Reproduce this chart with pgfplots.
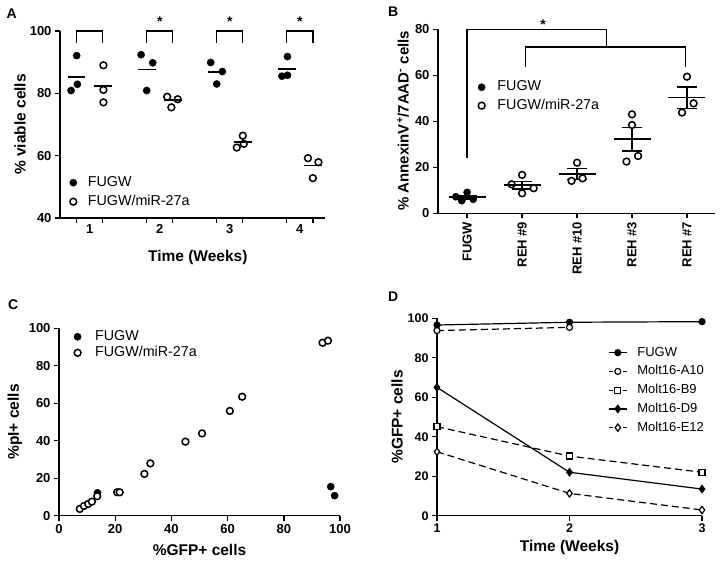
\documentclass[border=0pt]{standalone}
\usepackage{pgfplots}
\pgfplotsset{compat=1.18}
\usepackage{fontspec}
\setmainfont{Liberation Sans}
\pgfplotsset{
  every axis legend/.append style={draw=none, fill=none},
  panel/.style={
    scale only axis, anchor=south west,
    axis lines=left, axis line style={-, line width=1.4pt},
    tick align=outside, major tick length=5pt,
    tick style={line width=1.4pt, black},
    tick label style={font=\bfseries\fontsize{13}{15}\selectfont},
    /pgf/number format/assume math mode=true,
    label style={font=\bfseries\fontsize{15.5}{17}\selectfont},
    clip=false,
    legend cell align=left,
  },
  lgd/.style={legend style={draw=none, fill=none, anchor=west,
    font=\fontsize{14.3}{16}\selectfont,
    nodes={inner sep=0pt, text height=9.5pt, text depth=2.5pt}}},
}
\begin{document}
\begin{tikzpicture}
\path[use as bounding box] (0pt,0pt) rectangle (720pt,560pt);
\node[font=\bfseries\fontsize{14}{16}\selectfont] at (11.7pt,546.7pt) {A};
\node[font=\bfseries\fontsize{14}{16}\selectfont] at (393.3pt,548.3pt) {B};
\node[font=\bfseries\fontsize{14}{16}\selectfont] at (13.3pt,255pt) {C};
\node[font=\bfseries\fontsize{14}{16}\selectfont] at (393.3pt,263.3pt) {D};

% ---------------- Panel A ----------------
\begin{axis}[panel, lgd,
  at={(60pt,342pt)}, width=265pt, height=187pt,
  xmin=0.576, xmax=4.36, ymin=40, ymax=100,
  ytick={40,60,80,100},
  xtick={0.814,1.186,1.814,2.186,2.814,3.186,3.814,4.186},
  xticklabels={},
  extra x ticks={1,2,3,4}, extra x tick labels={1,2,3,4},
  extra x tick style={major tick length=0pt, xticklabel style={yshift=-3pt}},
  xlabel={Time (Weeks)}, ylabel={\% viable cells},
  xlabel style={at={(axis description cs:0.52,-0.209)}, anchor=center},
  ylabel style={at={(axis description cs:-0.151,0.5)}, anchor=center},
  legend style={at={(axis description cs:0.0245,0.138)}, row sep=7pt, column sep=11pt},
]
\addplot[only marks, mark=*, mark size=3.6pt] coordinates {
  (0.814,92.1) (0.734,80.9) (0.824,82.9)
  (1.734,92.4) (1.900,89.8) (1.814,80.9)
  (2.728,89.9) (2.894,87.0) (2.814,83.0)
  (3.824,91.8) (3.744,85.5) (3.824,85.8)
};
\addplot[only marks, mark=*, mark size=3.4pt, mark options={fill=white, draw=black, line width=1.5pt}] coordinates {
  (1.196,89.0) (1.196,81.1) (1.196,77.1)
  (2.106,78.9) (2.256,78.1) (2.166,75.5)
  (3.100,62.6) (3.186,66.4) (3.200,63.8)
  (4.116,59.2) (4.266,57.9) (4.186,52.8)
};
\addplot[only marks, mark=-, mark size=8.8pt, mark options={line width=1.5pt}, forget plot] coordinates {
  (0.814,85.3) (1.186,82.4) (1.814,87.7) (2.186,77.9)
  (2.814,86.8) (3.186,64.4) (3.814,87.8) (4.186,56.8)
};
\legend{FUGW, FUGW/miR-27a}
\foreach \w in {1,2,3,4} {
  \edef\temp{\noexpand\draw[line width=1.4pt] (axis cs:\w-0.186,96.3) |- (axis cs:\w+0.186,100) -- (axis cs:\w+0.186,96.3);}
  \temp
}
\node[anchor=base, font=\bfseries\fontsize{14}{16}\selectfont] at (axis cs:2,101.5) {*};
\node[anchor=base, font=\bfseries\fontsize{14}{16}\selectfont] at (axis cs:3,101.5) {*};
\node[anchor=base, font=\bfseries\fontsize{14}{16}\selectfont] at (axis cs:4,101.5) {*};
\end{axis}

% ---------------- Panel B ----------------
\begin{axis}[panel, lgd,
  at={(438pt,346.7pt)}, width=277pt, height=184pt,
  xmin=-0.53, xmax=4.51, ymin=0, ymax=80,
  ytick={0,20,40,60,80},
  xtick={0,1,2,3,4},
  xticklabels={FUGW, REH \#9, REH \#10, REH \#3, REH \#7},
  xticklabel style={rotate=90, anchor=east},
  ylabel={\% AnnexinV\textsuperscript{+}/7AAD\textsuperscript{-} cells},
  ylabel style={at={(axis description cs:-0.126,0.503)}, anchor=center, font=\bfseries\fontsize{15}{16}\selectfont},
  legend style={at={(axis description cs:0.133,0.635)}, row sep=6.4pt, column sep=12.2pt},
]
\addplot[only marks, mark=*, mark size=3.6pt] coordinates {
  (-0.206,7.2) (-0.097,5.5) (0,9.1) (0.11,6.1)
};
\addplot[only marks, mark=*, mark size=3.4pt, mark options={fill=white, draw=black, line width=1.5pt}] coordinates {
  (1.0,16.7) (0.81,12.6) (1.21,10.9) (1.0,8.7)
  (2.0,22.0) (1.9,14.1) (2.1,15.2)
  (3.0,43.0) (3.0,38.4) (2.9,22.5) (3.11,24.9)
  (4.0,59.4) (4.12,47.8) (3.91,43.8)
};
\addplot[only marks, mark=-, mark size=18.5pt, mark options={line width=1.5pt}, forget plot,
  error bars/.cd, y dir=both, y explicit,
  error bar style={line width=1.5pt},
  error mark options={line width=1.5pt, mark size=10pt, rotate=90}] coordinates {
  (0,7.0) +- (0,0.79)
  (1,12.2) +- (0,1.69)
  (2,17.1) +- (0,2.47)
  (3,32.2) +- (0,5.02)
  (4,50.3) +- (0,4.68)
};
\legend{FUGW, FUGW/miR-27a}
\draw[line width=1.4pt] (axis cs:0,23.9) |- (axis cs:2.54,80) -- (axis cs:2.54,72.3);
\draw[line width=1.4pt] (axis cs:1.06,63.7) |- (axis cs:3.97,72.3) -- (axis cs:3.97,63.7);
\node[anchor=base, font=\bfseries\fontsize{14}{16}\selectfont] at (axis cs:1.38,79.8) {*};
\end{axis}

% ---------------- Panel C ----------------
\begin{axis}[panel, lgd,
  at={(59pt,44.3pt)}, width=281pt, height=187.4pt,
  xmin=0, xmax=100, ymin=0, ymax=100,
  xtick={0,20,40,60,80,100}, ytick={0,20,40,60,80,100},
  xlabel={\%GFP+ cells}, ylabel={\%pI+ cells},
  xlabel style={at={(axis description cs:0.50,-0.183)}, anchor=center},
  ylabel style={at={(axis description cs:-0.157,0.5)}, anchor=center},
  legend style={at={(axis description cs:0.042,0.912)}, row sep=4pt, column sep=13.9pt},
]
\addplot[only marks, mark=*, mark size=3.6pt] coordinates {
  (13.7,12.2) (96.7,15.5) (98.1,10.7)
};
\addplot[only marks, mark=*, mark size=3.4pt, mark options={fill=white, draw=black, line width=1.5pt}] coordinates {
  (7.4,3.6) (8.9,5.2) (10.4,6.3) (11.7,7.5) (13.6,10.4)
  (20.7,12.5) (21.6,12.5) (30.4,22.3) (32.5,27.9)
  (45.0,39.5) (50.9,43.9) (60.8,55.9) (65.2,63.5)
  (93.8,92.3) (95.7,93.4)
};
\legend{FUGW, FUGW/miR-27a}
\end{axis}

% ---------------- Panel D ----------------
\begin{axis}[panel,
  at={(437pt,44.3pt)}, width=265pt, height=197.4pt,
  xmin=1, xmax=3, ymin=0, ymax=100,
  xtick={1,2,3}, ytick={0,20,40,60,80,100},
  tick label style={font=\bfseries\fontsize{12.5}{15}\selectfont},
  xlabel={Time (Weeks)}, ylabel={\%GFP+ cells},
  xlabel style={at={(axis description cs:0.50,-0.159)}, anchor=center},
  ylabel style={at={(axis description cs:-0.151,0.5)}, anchor=center},
  legend style={draw=white, fill=none, anchor=west,
    at={(axis description cs:0.634,0.636)},
    row sep=6.75pt, column sep=10pt, font=\fontsize{13}{15}\selectfont,
    nodes={inner sep=0pt, text height=9.5pt, text depth=2.5pt}},
]
\addplot[line width=1.2pt, mark=*, mark size=3pt,
  legend image code/.code={
    \draw[line width=1.2pt] (0pt,0pt) -- (18pt,0pt);
    \draw[line width=1.2pt, fill=black] plot[mark=*, mark size=3pt] coordinates {(9pt,0pt)};}]
  coordinates {(1,96.6) (2,98.0) (3,98.3)};
\addplot[line width=1.2pt, dash pattern=on 7pt off 4pt, mark=*, mark size=3pt, mark options={solid, fill=white, draw=black, line width=1.2pt},
  legend image code/.code={
    \draw[line width=1.2pt, dash pattern=on 4pt off 3pt] (0pt,0pt) -- (18pt,0pt);
    \draw[line width=1.2pt, fill=white] plot[mark=*, mark size=3pt] coordinates {(9pt,0pt)};}]
  coordinates {(1,93.8) (2,95.4)};
\addplot[line width=1.2pt, dash pattern=on 7pt off 4pt, mark=square*, mark size=3pt, mark options={solid, fill=white, draw=black, line width=1.2pt},
  legend image code/.code={
    \draw[line width=1.2pt, dash pattern=on 4pt off 3pt] (0pt,0pt) -- (18pt,0pt);
    \draw[line width=1.2pt, fill=white] plot[mark=square*, mark size=3pt] coordinates {(9pt,0pt)};}]
  coordinates {(1,45.1) (2,30.2) (3,22.0)};
\addplot[line width=1.2pt, mark=diamond*, mark size=3.6pt, mark options={solid, fill=black},
  legend image code/.code={
    \draw[line width=1.2pt] (0pt,0pt) -- (18pt,0pt);
    \draw[fill=black] plot[mark=diamond*, mark size=3.6pt] coordinates {(9pt,0pt)};}]
  coordinates {(1,65.0) (2,22.0) (3,13.5)};
\addplot[line width=1.2pt, dash pattern=on 7pt off 4pt, mark=diamond*, mark size=3.6pt, mark options={solid, fill=white, draw=black, line width=1.2pt},
  legend image code/.code={
    \draw[line width=1.2pt, dash pattern=on 4pt off 3pt] (0pt,0pt) -- (18pt,0pt);
    \draw[line width=1.2pt, fill=white] plot[mark=diamond*, mark size=3.6pt] coordinates {(9pt,0pt)};}]
  coordinates {(1,32.4) (2,11.3) (3,2.9)};
\legend{FUGW, Molt16-A10, Molt16-B9, Molt16-D9, Molt16-E12}
\end{axis}
\end{tikzpicture}
\end{document}
